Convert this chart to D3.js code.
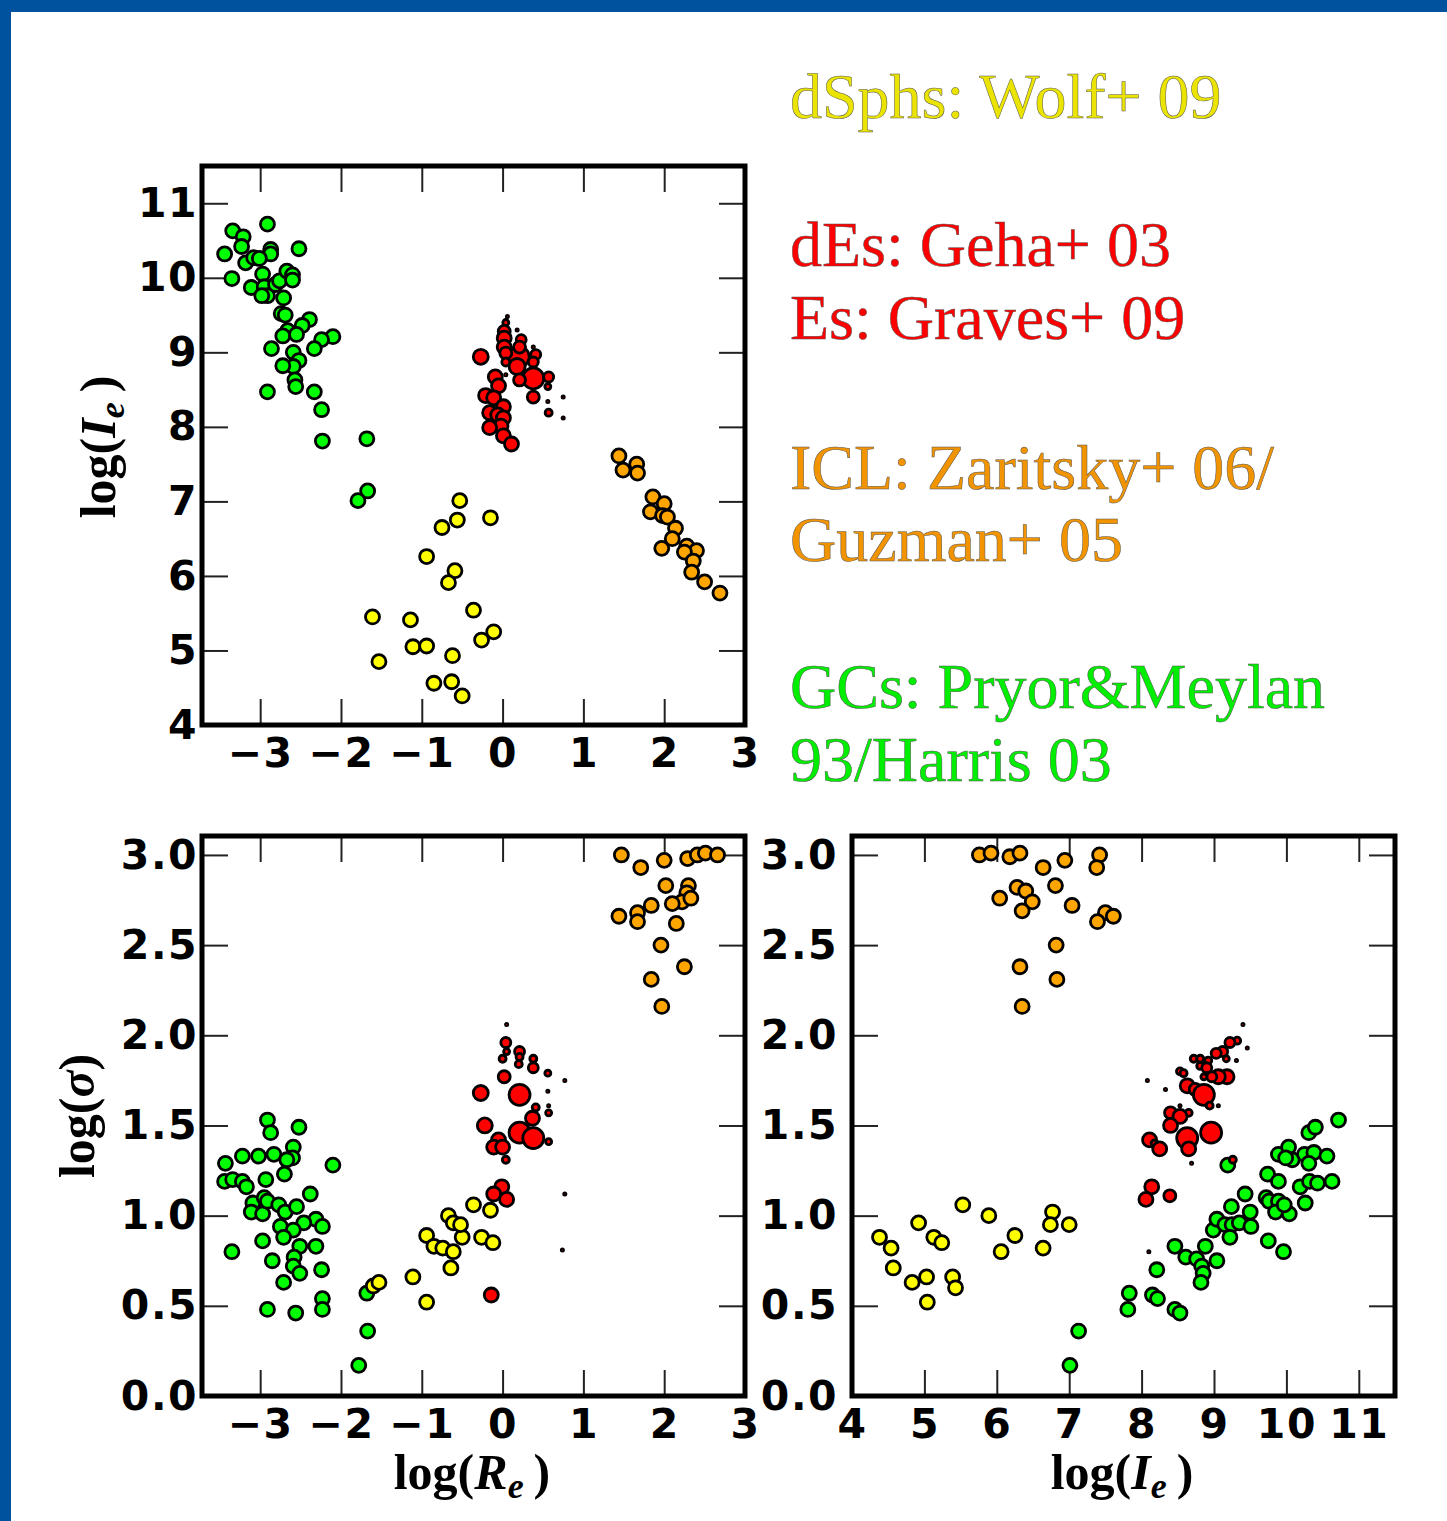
<!DOCTYPE html>
<html>
<head>
<meta charset="utf-8">
<script src="https://cdn.jsdelivr.net/npm/d3@7"></script>
<style>
  body { margin: 0; background: #fff; }
  .tick text { font-family: "DejaVu Sans", sans-serif; font-weight: bold; font-size: 41px; letter-spacing: 1.5px; fill: #000; }
  .tick line { stroke: #222; stroke-width: 2; }
</style>
</head>
<body>
<script>
// ---- data ----
// top panel: log(Re), log(Ie)
var gcReIe = [[-2.91,10.72],[-3.34,10.63],[-3.21,10.55],[-3.23,10.42],[-3.44,10.32],[-2.87,10.38],[-2.87,10.32],
  [-2.52,10.39],[-3.18,10.20],[-3.08,10.27],[-3.01,10.26],[-3.35,9.99],[-2.97,10.05],[-3.11,9.87],[-2.95,9.88],
  [-2.91,9.76],[-2.98,9.76],[-2.81,9.91],[-2.76,9.96],[-2.67,10.09],[-2.60,10.04],[-2.60,9.97],[-2.71,9.73],
  [-2.74,9.52],[-2.69,9.50],[-2.39,9.44],[-2.48,9.36],[-2.66,9.29],[-2.72,9.22],[-2.55,9.24],[-2.10,9.21],
  [-2.24,9.17],[-2.33,9.05],[-2.86,9.05],[-2.59,9.00],[-2.52,8.89],[-2.59,8.81],[-2.72,8.82],[-2.57,8.63],
  [-2.56,8.54],[-2.91,8.47],[-2.33,8.47],[-2.24,8.23],[-2.23,7.81],[-1.68,7.84],[-1.67,7.14],[-1.79,7.01]];
var dsphReIe = [[-0.53,7.01],[-0.56,6.75],[-0.75,6.65],[-0.15,6.78],[-0.94,6.26],[-0.59,6.07],[-0.67,5.91],
  [-1.61,5.45],[-1.14,5.41],[-0.36,5.54],[-0.11,5.25],[-0.26,5.14],[-1.11,5.05],[-0.94,5.06],[-0.62,4.93],
  [-1.53,4.85],[-0.85,4.56],[-0.63,4.58],[-0.50,4.39]];
var iclReIe = [[1.44,7.61],[1.49,7.42],[1.66,7.50],[1.67,7.38],[1.86,7.06],[2.00,6.97],[1.83,6.86],[1.98,6.81],
  [2.04,6.79],[2.14,6.64],[2.10,6.50],[1.97,6.37],[2.28,6.40],[2.40,6.34],[2.25,6.32],[2.36,6.20],[2.34,6.05],
  [2.50,5.92],[2.69,5.77]];
// [x, y, marker radius]
var eReIe = [[-0.27,8.94,7.5],[0.20,8.94,10.5],[0.38,8.65,10.5],[0.06,9.48,1.5],[0.04,9.40,3],[0.02,9.28,6],
  [0.02,9.19,7],[0.02,9.07,7],[0.04,8.99,6],[0.04,8.87,4],[0.18,9.30,1.5],[0.23,9.17,5],[0.21,9.07,6],
  [0.18,8.81,8],[0.21,8.63,6],[0.38,9.07,1.5],[0.41,8.97,5],[0.38,8.87,5],[0.38,8.40,6],[0.57,8.67,5],
  [0.56,8.54,3],[0.56,8.34,1.5],[0.75,8.40,1.5],[0.57,8.19,3.5],[0.75,8.12,1.5],[0.04,8.70,1.5],[-0.09,8.67,7],
  [-0.05,8.55,7],[-0.21,8.42,7],[-0.11,8.39,7],[0.01,8.27,7],[-0.16,8.19,7],[-0.06,8.16,7],[0.01,8.12,7],
  [-0.02,8.01,7],[-0.16,7.99,7],[0.01,7.88,7],[0.11,7.77,7]];

// bottom left: log(Re), log(sigma)
var gcReSig = [[-2.91,1.53],[-2.87,1.46],[-2.52,1.49],[-3.43,1.29],[-3.22,1.33],[-3.02,1.33],[-2.83,1.34],
  [-2.59,1.38],[-2.60,1.32],[-2.67,1.31],[-2.70,1.23],[-2.10,1.28],[-3.44,1.19],[-3.34,1.20],[-3.22,1.19],
  [-3.17,1.16],[-2.93,1.20],[-2.38,1.12],[-3.09,1.07],[-3.11,1.02],[-2.97,1.01],[-2.95,1.10],[-2.91,1.08],
  [-2.77,1.06],[-2.69,1.02],[-2.55,1.05],[-2.31,0.98],[-2.23,0.94],[-2.46,0.96],[-2.75,0.94],[-2.59,0.92],
  [-2.71,0.88],[-2.97,0.86],[-2.51,0.83],[-2.31,0.83],[-3.35,0.80],[-2.85,0.75],[-2.58,0.77],[-2.59,0.72],
  [-2.51,0.68],[-2.24,0.70],[-2.71,0.63],[-2.23,0.54],[-2.23,0.48],[-2.91,0.48],[-2.56,0.46],[-1.68,0.57],
  [-1.67,0.36],[-1.78,0.17]];
var dsphReSig = [[-1.60,0.61],[-1.53,0.63],[-1.11,0.66],[-0.94,0.52],[-0.94,0.89],[-0.85,0.83],[-0.74,0.82],
  [-0.61,0.80],[-0.64,0.71],[-0.50,0.88],[-0.67,1.00],[-0.61,0.96],[-0.52,0.95],[-0.36,1.06],[-0.15,1.03],
  [-0.26,0.88],[-0.12,0.85]];
var iclReSig = [[1.47,3.00],[1.71,2.93],[2.00,2.97],[2.29,2.98],[2.41,3.00],[2.51,3.01],[2.66,3.00],[2.02,2.83],
  [2.30,2.83],[2.28,2.79],[2.22,2.74],[1.84,2.72],[2.10,2.73],[1.67,2.68],[1.44,2.66],[1.67,2.63],[2.33,2.76],
  [2.15,2.62],[1.96,2.50],[2.25,2.38],[1.84,2.31],[1.97,2.16]];
var eReSig = [[0.05,2.06,1.5],[0.04,1.96,5],[0.05,1.91,3],[0.21,1.91,5],[0.21,1.88,3.5],[0.20,1.84,3.5],
  [0.00,1.87,3.5],[0.38,1.87,3.5],[0.38,1.82,5],[0.56,1.79,3],[0.77,1.75,1.5],[0.02,1.77,6],[0.56,1.69,1.5],
  [-0.27,1.68,7.5],[0.21,1.67,10.5],[0.41,1.60,3.5],[0.57,1.61,1.5],[0.57,1.57,3],[0.37,1.54,7],[-0.22,1.50,7.5],
  [0.21,1.46,10.5],[0.38,1.43,10.5],[0.57,1.41,3],[-0.05,1.42,7],[-0.11,1.38,7],[0.00,1.38,7],[0.04,1.31,3.5],
  [-0.01,1.16,7],[-0.11,1.12,7],[0.05,1.09,7],[0.77,1.12,1.5],[0.74,0.81,1.5],[-0.14,0.56,7]];

// bottom right: log(Ie), log(sigma)
var gcIeSig = [[7.13,0.36],[7.01,0.17],[7.83,0.57],[7.81,0.48],[8.21,0.70],[8.15,0.56],[8.22,0.54],[8.46,0.48],
  [8.53,0.46],[8.46,0.83],[8.61,0.77],[8.76,0.76],[8.88,0.83],[8.83,0.72],[8.85,0.68],[8.82,0.63],[9.04,0.75],
  [8.99,0.92],[9.04,0.98],[9.15,0.95],[9.25,0.95],[9.35,0.96],[9.22,0.88],[9.24,1.05],[9.50,1.02],[9.51,0.94],
  [9.43,1.12],[9.19,1.28],[9.75,0.86],[9.96,0.80],[9.74,1.23],[9.89,1.19],[9.72,1.10],[9.76,1.08],[9.89,1.08],
  [9.85,1.02],[10.04,1.01],[9.97,1.06],[10.26,1.07],[10.19,1.16],[10.32,1.19],[10.43,1.18],[10.63,1.19],
  [9.89,1.34],[10.03,1.38],[10.08,1.31],[9.99,1.32],[10.25,1.34],[10.38,1.35],[10.31,1.29],[10.56,1.33],
  [10.31,1.46],[10.40,1.49],[10.72,1.53]];
var dsphIeSig = [[4.38,0.88],[4.54,0.82],[4.57,0.71],[4.92,0.96],[5.13,0.88],[5.24,0.85],[4.83,0.63],[5.03,0.66],
  [5.04,0.52],[5.39,0.66],[5.43,0.60],[5.53,1.06],[5.89,1.00],[6.06,0.80],[6.25,0.89],[6.64,0.82],[6.77,1.02],
  [6.74,0.95],[7.00,0.95]];
var iclIeSig = [[5.76,3.00],[5.92,3.01],[6.18,2.99],[6.32,3.01],[6.64,2.93],[6.94,2.97],[7.42,3.00],[7.38,2.93],
  [6.28,2.82],[6.40,2.80],[6.81,2.83],[6.04,2.76],[6.49,2.74],[6.35,2.69],[7.04,2.72],[7.50,2.68],[7.61,2.66],
  [7.39,2.63],[6.82,2.50],[6.32,2.38],[6.83,2.31],[6.35,2.16]];
var eIeSig = [[9.40,2.06,1.5],[9.32,1.97,3.5],[9.22,1.96,5],[9.46,1.93,1.5],[9.12,1.91,5],[9.03,1.90,5],
  [9.17,1.87,3],[9.31,1.86,1.5],[8.72,1.87,3.5],[8.81,1.87,3.5],[8.92,1.86,3.5],[8.81,1.83,3.5],[8.90,1.82,5],
  [8.53,1.80,3.5],[8.58,1.79,3.5],[9.18,1.77,7],[9.06,1.77,7],[8.97,1.77,5],[8.86,1.77,3],[8.08,1.75,1.5],
  [8.63,1.72,7],[8.33,1.70,1.5],[8.74,1.70,6],[8.81,1.68,6],[8.86,1.67,10.5],[8.94,1.61,3.5],[9.06,1.61,1.5],
  [8.53,1.61,1.5],[8.40,1.57,6],[8.65,1.57,3.5],[8.53,1.55,7],[8.40,1.50,7],[8.96,1.46,10.5],[8.63,1.43,10.5],
  [8.65,1.37,7],[8.11,1.42,7],[8.18,1.40,3.5],[8.25,1.37,7],[8.69,1.29,1.5],[9.26,1.31,3.5],[8.14,1.16,7],
  [8.06,1.09,7],[8.39,1.11,6],[8.10,0.80,1.5]];

var reTicks = [-3, -2, -1, 0, 1, 2, 3];
var ieTicks = [4, 5, 6, 7, 8, 9, 10, 11];
var sigTicks = [0, 0.5, 1, 1.5, 2, 2.5, 3];

var legendLines = [
  { text: "dSphs: Wolf+ 09", color: "#eae400", y: 118 },
  { text: "dEs: Geha+ 03", color: "#ff0000", y: 266 },
  { text: "Es: Graves+ 09", color: "#ff0000", y: 339 },
  { text: "ICL: Zaritsky+ 06/", color: "#f29400", y: 489 },
  { text: "Guzman+ 05", color: "#f29400", y: 561 },
  { text: "GCs: Pryor&Meylan", color: "#00ee00", y: 708 },
  { text: "93/Harris 03", color: "#00ee00", y: 781 }
];

var colors = { gc: "#00ff00", dsph: "#ffff00", icl: "#ffa500", e: "#ff0000" };

var W = 1447, H = 1521;
var svg = d3.select("body").append("svg").attr("width", W).attr("height", H);

// blue slide border
svg.append("rect").attr("x", 0).attr("y", 0).attr("width", W).attr("height", 12).attr("fill", "#00529f");
svg.append("rect").attr("x", 0).attr("y", 0).attr("width", 11).attr("height", H).attr("fill", "#00529f");

function drawPanel(p) {
  var w = p.right - p.left, h = p.bottom - p.top;
  var x = d3.scaleLinear().domain(p.xDomain).range([0, w]);
  var y = d3.scaleLinear().domain(p.yDomain).range([h, 0]);
  var g = svg.append("g").attr("transform", "translate(" + p.left + "," + p.top + ")");

  var tl = 26;
  g.append("g").attr("transform", "translate(0," + h + ")")
    .call(d3.axisBottom(x).tickValues(p.xTicks).tickSizeInner(-tl).tickSizeOuter(0).tickPadding(13).tickFormat(p.xFormat));
  g.append("g")
    .call(d3.axisTop(x).tickValues(p.xTicks).tickSizeInner(-tl).tickSizeOuter(0).tickFormat(""));
  g.append("g")
    .call(d3.axisLeft(y).tickValues(p.yTicks).tickSizeInner(-tl).tickSizeOuter(0).tickPadding(p.yPad).tickFormat(p.yFormat));
  g.append("g").attr("transform", "translate(" + w + ",0)")
    .call(d3.axisRight(y).tickValues(p.yTicks).tickSizeInner(-tl).tickSizeOuter(0).tickFormat(""));
  g.selectAll(".domain").remove();
  g.selectAll(".tick text").attr("fill", "#000");

  p.groups.forEach(function (grp) {
    g.append("g").selectAll("circle").data(grp.data).enter().append("circle")
      .attr("cx", function (d) { return x(d[0]); })
      .attr("cy", function (d) { return y(d[1]); })
      .attr("r", function (d) { return d.length > 2 ? d[2] : 7; })
      .attr("fill", grp.color)
      .attr("stroke", "#000")
      .attr("stroke-width", function (d) { return (d.length > 2 && d[2] < 2) ? 2 : 2.8; });
  });

  // frame
  g.append("rect").attr("x", 0).attr("y", 0).attr("width", w).attr("height", h)
    .attr("fill", "none").attr("stroke", "#000").attr("stroke-width", 5);
}

var fmtInt = d3.format("d"), fmt1 = d3.format(".1f");

drawPanel({ left: 202, right: 745, top: 166, bottom: 725, xDomain: [-3.72, 3], yDomain: [4, 11.5],
  xTicks: reTicks, yTicks: ieTicks, xFormat: fmtInt, yFormat: fmtInt, yPad: 4,
  groups: [{ data: gcReIe, color: colors.gc }, { data: dsphReIe, color: colors.dsph },
           { data: iclReIe, color: colors.icl }, { data: eReIe, color: colors.e }] });

drawPanel({ left: 202, right: 745, top: 836, bottom: 1396, xDomain: [-3.72, 3], yDomain: [0, 3.105],
  xTicks: reTicks, yTicks: sigTicks, xFormat: fmtInt, yFormat: fmt1, yPad: 4,
  groups: [{ data: gcReSig, color: colors.gc }, { data: dsphReSig, color: colors.dsph },
           { data: iclReSig, color: colors.icl }, { data: eReSig, color: colors.e }] });

drawPanel({ left: 852, right: 1395, top: 836, bottom: 1396, xDomain: [4, 11.5], yDomain: [0, 3.105],
  xTicks: ieTicks, yTicks: sigTicks, xFormat: fmtInt, yFormat: fmt1, yPad: 14,
  groups: [{ data: dsphIeSig, color: colors.dsph }, { data: iclIeSig, color: colors.icl },
           { data: gcIeSig, color: colors.gc }, { data: eIeSig, color: colors.e }] });

// axis labels
function axisLabel(x, y, rotate, sym, sub) {
  var t = svg.append("text")
    .attr("transform", "translate(" + x + "," + y + ")" + (rotate ? " rotate(-90)" : ""))
    .attr("text-anchor", "middle")
    .style("font-family", "'Liberation Serif', 'Times New Roman', serif")
    .style("font-weight", "bold")
    .style("font-size", "50px")
    .attr("fill", "#000");
  t.append("tspan").text("log(");
  t.append("tspan").style("font-style", "italic").text(sym);
  if (sub) {
    t.append("tspan").style("font-style", "italic").style("font-size", "36px").attr("dy", 9).text(sub);
    t.append("tspan").attr("dy", -9).text("\u2009)");
  } else {
    t.append("tspan").text(")");
  }
}
axisLabel(115, 447, true, "I", "e");
axisLabel(94, 1116, true, "\u03c3", null);
axisLabel(472, 1489, false, "R", "e");
axisLabel(1122, 1489, false, "I", "e");

// legend text
svg.append("g").selectAll("text").data(legendLines).enter().append("text")
  .attr("x", 790)
  .attr("y", function (d) { return d.y; })
  .style("font-family", "'Liberation Serif', 'Times New Roman', serif")
  .style("font-size", "64px")
  .attr("fill", function (d) { return d.color; })
  .attr("stroke", "#555")
  .attr("stroke-width", 0.5)
  .text(function (d) { return d.text; });
</script>
</body>
</html>
